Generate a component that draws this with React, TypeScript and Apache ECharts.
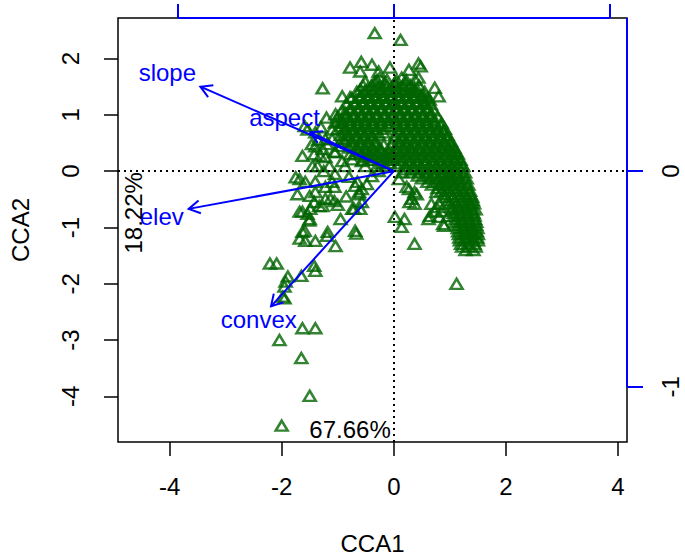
import React, { useEffect, useRef } from "react";
import * as echarts from "echarts";

const FONT = "'Liberation Sans', Arial, Helvetica, sans-serif";
const GREEN = "#006400";
const BLUE = "#0000ff";
const FS = 24;

const xTicks = [-4, -2, 0, 2, 4];
const yTicks = [-4, -3, -2, -1, 0, 1, 2];
const topTicks = [-1, 0, 1];
const rightTicks = [-1, 0];
const xLimits = [-4.92, 4.16];
const yLimits = [-4.81, 2.72];
const biplotScaleX = 3.85;
const biplotScaleY = 3.83;

const envNames = ["slope", "aspect", "elev", "convex"];
const envArrowX = [-3.45, -1.49, -3.66, -2.19];
const envArrowY = [1.5, 0.69, -0.67, -2.4];
const envLabelX = [-4.04, -1.95, -4.14, -2.41];
const envLabelY = [1.75, 0.95, -0.8, -2.63];

const pctTexts = ["67.66%", "18.22%"];
const pctX = [-0.78, -4.64];
const pctY = [-4.59, -0.74];
const pctVertical = [false, true];

// dense core of site scores, row by row
const coreRowY = [
  1.62, 1.52, 1.41, 1.3, 1.19, 1.08, 0.97, 0.86, 0.75, 0.64, 0.53, 0.42, 0.31,
  0.2, 0.09, -0.02, -0.13, -0.24, -0.35, -0.46, -0.57, -0.68, -0.79, -0.9,
  -1.01, -1.12, -1.23, -1.34, -1.4,
];
const coreRowX = [
  [-0.3, -0.12, 0.05, 0.22, 0.38],
  [-0.55, -0.4, -0.26, -0.12, 0.02, 0.16, 0.3, 0.45],
  [-0.66, -0.52, -0.38, -0.25, -0.11, 0.03, 0.17, 0.31, 0.44, 0.55],
  [-0.75, -0.61, -0.47, -0.34, -0.2, -0.06, 0.08, 0.21, 0.35, 0.48, 0.6],
  [-0.84, -0.7, -0.56, -0.42, -0.29, -0.15, -0.01, 0.13, 0.26, 0.4, 0.53, 0.66],
  [-0.92, -0.78, -0.64, -0.5, -0.37, -0.23, -0.09, 0.05, 0.18, 0.32, 0.46, 0.59, 0.71],
  [-1.0, -0.86, -0.72, -0.58, -0.45, -0.31, -0.17, -0.03, 0.1, 0.24, 0.38, 0.51, 0.65, 0.78],
  [-1.05, -0.91, -0.77, -0.63, -0.5, -0.36, -0.22, -0.08, 0.05, 0.19, 0.33, 0.46, 0.6, 0.73, 0.85],
  [-1.0, -0.86, -0.72, -0.58, -0.45, -0.31, -0.17, 0.1, 0.24, 0.38, 0.51, 0.65, 0.78, 0.91],
  [-0.95, -0.81, -0.67, -0.53, -0.4, -0.26, 0.02, 0.15, 0.29, 0.43, 0.56, 0.7, 0.83, 0.96],
  [-0.88, -0.74, -0.6, -0.46, -0.33, 0.09, 0.22, 0.36, 0.5, 0.63, 0.77, 0.9, 1.02],
  [-0.8, -0.66, -0.52, -0.38, -0.25, 0.03, 0.17, 0.3, 0.44, 0.58, 0.71, 0.85, 0.98, 1.08],
  [-0.7, -0.56, -0.42, -0.28, -0.15, -0.01, 0.13, 0.27, 0.4, 0.54, 0.68, 0.81, 0.95, 1.07, 1.14],
  [-0.55, -0.41, -0.27, -0.13, 0.01, 0.15, 0.29, 0.42, 0.56, 0.7, 0.83, 0.97, 1.1, 1.19],
  [-0.3, -0.15, 0.05, 0.2, 0.34, 0.48, 0.62, 0.75, 0.89, 1.02, 1.15, 1.24],
  [0.15, 0.3, 0.45, 0.6, 0.74, 0.88, 1.01, 1.14, 1.27],
  [0.5, 0.65, 0.79, 0.92, 1.05, 1.18, 1.3],
  [0.68, 0.82, 0.95, 1.08, 1.21, 1.33],
  [0.85, 0.98, 1.11, 1.24, 1.36],
  [0.93, 1.06, 1.19, 1.31, 1.4],
  [1.0, 1.12, 1.24, 1.36, 1.43],
  [1.05, 1.17, 1.29, 1.4, 1.46],
  [1.08, 1.2, 1.32, 1.44],
  [1.11, 1.23, 1.35, 1.47],
  [1.14, 1.26, 1.38, 1.49],
  [1.16, 1.28, 1.4, 1.5],
  [1.18, 1.3, 1.42, 1.5],
  [1.22, 1.34, 1.46],
  [1.28, 1.42],
];

// interleaved rows that fill the core between the rows above
const coreMidRowY = [
  1.46, 1.35, 1.24, 1.13, 1.02, 0.91, 0.8, 0.69, 0.58, 0.47, 0.36, 0.25, 0.14,
  0.03, -0.08, -0.19, -0.3, -0.41, -0.52, -0.63, -0.74, -0.85, -0.96, -1.07,
  -1.18, -1.29,
];
const coreMidRowX = [
  [-0.47, -0.33, -0.19, -0.05, 0.09, 0.23, 0.37],
  [-0.59, -0.45, -0.31, -0.18, -0.04, 0.1, 0.24, 0.38, 0.5],
  [-0.68, -0.54, -0.4, -0.27, -0.13, 0.01, 0.15, 0.28, 0.42, 0.55],
  [-0.77, -0.63, -0.49, -0.36, -0.22, -0.08, 0.06, 0.19, 0.33, 0.47, 0.6],
  [-0.85, -0.71, -0.57, -0.44, -0.3, -0.16, -0.02, 0.11, 0.25, 0.39, 0.52, 0.66],
  [-0.93, -0.79, -0.65, -0.52, -0.38, -0.24, -0.1, 0.03, 0.17, 0.31, 0.44, 0.58, 0.71],
  [-0.93, -0.79, -0.65, -0.52, -0.38, -0.24, -0.1, 0.03, 0.17, 0.31, 0.44, 0.58, 0.71, 0.84],
  [-0.88, -0.74, -0.6, -0.47, -0.33, -0.19, 0.09, 0.22, 0.36, 0.5, 0.63, 0.77, 0.89],
  [-0.81, -0.67, -0.53, -0.4, 0.01, 0.15, 0.29, 0.43, 0.56, 0.7, 0.83, 0.95],
  [-0.73, -0.59, -0.45, -0.32, -0.18, -0.04, 0.1, 0.23, 0.37, 0.51, 0.64, 0.78, 0.91, 1.02],
  [-0.63, -0.49, -0.35, -0.22, -0.08, 0.06, 0.2, 0.34, 0.47, 0.61, 0.75, 0.88, 1.01, 1.1],
  [-0.48, -0.34, -0.2, -0.06, 0.08, 0.22, 0.36, 0.49, 0.63, 0.77, 0.9, 1.03, 1.14],
  [-0.22, -0.08, 0.12, 0.27, 0.41, 0.55, 0.69, 0.82, 0.96, 1.09, 1.2],
  [0.22, 0.37, 0.52, 0.67, 0.81, 0.95, 1.08, 1.2],
  [0.43, 0.58, 0.72, 0.86, 0.99, 1.12, 1.24],
  [0.6, 0.75, 0.88, 1.02, 1.15, 1.27],
  [0.78, 0.91, 1.05, 1.18, 1.3],
  [0.9, 1.02, 1.15, 1.27, 1.37],
  [0.97, 1.09, 1.21, 1.33, 1.41],
  [1.03, 1.15, 1.27, 1.38],
  [1.07, 1.19, 1.31, 1.42],
  [1.1, 1.22, 1.34, 1.45],
  [1.13, 1.25, 1.37, 1.47],
  [1.15, 1.27, 1.39, 1.48],
  [1.17, 1.29, 1.41, 1.49],
  [1.2, 1.32, 1.44],
];

// scattered site scores around the core
const sparseSites: [number, number][] = [
  [-0.34, 2.45], [0.12, 2.33], [-0.78, 1.84], [-0.58, 1.94], [-0.39, 1.89], [-0.07, 1.84],
  [-0.6, 1.77], [-0.27, 1.77], [-0.92, 1.33], [-0.78, 1.31], [-0.6, 1.45], [-0.51, 1.59],
  [-0.34, 1.59], [-0.16, 1.57], [0.27, 1.8], [0.44, 1.91], [0.48, 1.86], [0.44, 1.66],
  [0.73, 1.48], [0.8, 1.33], [0.55, 1.31], [0.64, 1.27], [0.37, 1.41], [0.14, 1.66],
  [0.02, 1.58], [0.22, 1.56], [-0.25, 1.66], [-1.27, 1.47], [-1.04, 1.01], [-0.87, 1.04],
  [0.88, 0.72],
  [-1.59, 0.8], [-1.4, 0.69], [-1.63, 0.27], [-1.42, 0.3], [-1.27, 0.39], [-1.22, 0.25],
  [-1.06, 0.34], [-0.92, 0.18], [-1.36, 0.09], [-0.78, 0.3], [-0.57, 0.18], [-0.44, 0.27],
  [-1.75, -0.11], [-1.58, -0.19], [-1.72, -0.41], [-1.4, -0.37], [-1.22, -0.28], [-1.06, -0.28],
  [-0.65, -0.19], [-0.57, -0.32], [-0.48, -0.23], [-0.62, -0.41], [-1.42, -0.55], [-1.27, -0.62],
  [-1.49, -0.67], [-1.13, -0.49], [-1.68, -0.72], [-1.54, -0.76], [-1.51, -0.88], [-0.71, -0.67],
  [-0.6, -0.67], [-1.59, -1.06], [-1.18, -1.08], [-0.69, -1.06], [-0.27, 0.0], [-0.39, -0.09],
  [-1.54, 0.74], [-1.3, 0.78], [-1.1, 0.57], [-0.83, 0.65], [-1.19, 0.48], [-1.46, 0.48],
  [-1.0, 0.88], [-1.2, 0.95], [-0.95, 0.45], [-1.35, 0.55], [-0.95, -0.85], [-1.0, -0.6],
  [-0.85, -0.45], [-0.8, -0.1], [-1.05, -0.05], [-1.25, 0.0],
  [-1.1, 0.74], [-1.22, 0.57], [-0.92, 0.57], [-1.4, 0.44], [-1.31, 0.27], [-1.04, 0.34],
  [-0.74, 0.21], [-1.45, 0.09], [-1.15, 0.09], [-0.87, 0.09], [-0.51, 0.09], [-1.68, -0.14],
  [-1.4, -0.19], [-1.1, -0.19], [-0.69, -0.26], [-1.5, -0.44], [-1.22, -0.49], [-0.62, -0.37],
  [-0.57, -0.55], [-1.63, -0.72], [-1.33, -0.62], [-1.06, -0.53], [-1.5, -0.85], [-0.74, -0.67],
  [-0.12, 0.27], [0.09, -0.14], [0.23, -0.28], [0.37, -0.37], [0.32, -0.49], [0.37, -0.58],
  [0.28, -0.55], [0.02, -0.81], [0.19, -0.85], [0.14, -0.99], [0.37, -1.29], [0.67, -0.58],
  [0.76, -0.64], [0.85, -0.71], [0.64, -0.8], [0.81, -0.81], [0.88, -0.94], [0.97, -0.8],
  [0.27, -0.32], [0.41, -0.41], [0.62, -0.85], [0.73, -0.72], [0.81, -0.58], [0.9, -0.97],
  [0.76, -0.37], [0.97, -0.14],
  [1.12, -2.0],
  [-1.63, -1.08], [-1.68, -1.2], [-1.58, -1.24], [-1.4, -1.24], [-1.19, -1.15], [-1.04, -1.33],
  [-0.67, -1.11], [-2.21, -1.64], [-2.09, -1.64], [-1.89, -1.87], [-1.93, -1.96], [-1.95, -2.05],
  [-1.98, -2.23], [-1.95, -2.26], [-1.65, -1.86], [-1.42, -1.68], [-1.4, -1.77], [-1.63, -2.79],
  [-1.4, -2.79], [-2.04, -3.0], [-1.65, -3.32], [-1.5, -3.99], [-2.0, -4.52],
];

const sites: number[][] = [];
coreRowY.forEach((y, i) => coreRowX[i].forEach((x) => sites.push([x, y])));
coreMidRowY.forEach((y, i) => coreMidRowX[i].forEach((x) => sites.push([x, y])));
sparseSites.forEach((p) => sites.push([p[0], p[1]]));

const txt = { fontFamily: FONT, fontSize: FS, color: "#000" };

function buildOption(): any {
  return {
    animation: false,
    backgroundColor: "#fff",
    grid: {
      left: 114,
      right: 58,
      top: 18,
      bottom: 116,
      show: true,
      borderColor: "#000",
      borderWidth: 1.5,
      backgroundColor: "transparent",
    },
    xAxis: [
      {
        type: "value",
        min: xLimits[0],
        max: xLimits[1],
        position: "bottom",
        axisLine: { show: false, onZero: false },
        axisTick: { show: true, length: 14, customValues: xTicks, lineStyle: { color: "#000", width: 1.5 } },
        axisLabel: { customValues: xTicks, margin: 32, ...txt },
        splitLine: { show: false },
        name: "CCA1",
        nameLocation: "middle",
        nameGap: 89,
        nameTextStyle: txt,
      },
      {
        type: "value",
        min: xLimits[0] / biplotScaleX,
        max: xLimits[1] / biplotScaleX,
        position: "top",
        axisLine: { show: false, onZero: false },
        axisTick: { show: true, length: 14, customValues: topTicks, lineStyle: { color: BLUE, width: 2 } },
        axisLabel: { show: false },
        splitLine: { show: false },
      },
    ],
    yAxis: [
      {
        type: "value",
        min: yLimits[0],
        max: yLimits[1],
        position: "left",
        axisLine: { show: false, onZero: false },
        axisTick: { show: true, length: 14, customValues: yTicks, lineStyle: { color: "#000", width: 1.5 } },
        axisLabel: { customValues: yTicks, rotate: 90, margin: 36, ...txt },
        splitLine: { show: false },
        name: "CCA2",
        nameLocation: "middle",
        nameRotate: 90,
        nameGap: 86,
        nameTextStyle: txt,
      },
      {
        type: "value",
        min: yLimits[0] / biplotScaleY,
        max: yLimits[1] / biplotScaleY,
        position: "right",
        axisLine: { show: false, onZero: false },
        axisTick: { show: true, length: 16, customValues: rightTicks, lineStyle: { color: BLUE, width: 2 } },
        axisLabel: { customValues: rightTicks, rotate: 90, margin: 31, ...txt },
        splitLine: { show: false },
      },
    ],
    series: [
      {
        type: "scatter",
        z: 1,
        data: [],
        markLine: {
          silent: true,
          symbol: ["none", "none"],
          label: { show: false },
          lineStyle: { color: "#000", width: 2, type: [2, 4] },
          data: [{ xAxis: 0 }, { yAxis: 0 }],
        },
      },
      {
        type: "scatter",
        z: 2,
        symbol: "triangle",
        symbolSize: [12, 10],
        itemStyle: { color: "rgba(0,0,0,0)", borderColor: GREEN, borderWidth: 2.5 },
        data: sites,
      },
      {
        type: "custom",
        z: 5,
        clip: false,
        data: envNames.map((_, i) => [0, 0, envArrowX[i], envArrowY[i]]),
        encode: { x: [0, 2], y: [1, 3] },
        renderItem: (params: any, api: any) => {
          const p0 = api.coord([api.value(0), api.value(1)]);
          const p1 = api.coord([api.value(2), api.value(3)]);
          const ang = Math.atan2(p1[1] - p0[1], p1[0] - p0[0]);
          const L = 13;
          const a = Math.PI / 6;
          const h1 = [p1[0] - L * Math.cos(ang - a), p1[1] - L * Math.sin(ang - a)];
          const h2 = [p1[0] - L * Math.cos(ang + a), p1[1] - L * Math.sin(ang + a)];
          return {
            type: "group",
            children: [
              { type: "line", shape: { x1: p0[0], y1: p0[1], x2: p1[0], y2: p1[1] }, style: { stroke: BLUE, lineWidth: 2 } },
              { type: "polyline", shape: { points: [h1, p1, h2] }, style: { stroke: BLUE, lineWidth: 2, fill: "none" } },
            ],
          };
        },
      },
      {
        type: "custom",
        z: 6,
        clip: false,
        data: envNames.map((_, i) => [envLabelX[i], envLabelY[i]]),
        renderItem: (params: any, api: any) => {
          const p = api.coord([api.value(0), api.value(1)]);
          return {
            type: "text",
            x: p[0],
            y: p[1],
            style: {
              text: envNames[params.dataIndex],
              fill: BLUE,
              fontSize: FS,
              fontFamily: FONT,
              align: "center",
              verticalAlign: "middle",
            },
          };
        },
      },
      {
        type: "custom",
        z: 6,
        clip: false,
        data: pctTexts.map((_, i) => [pctX[i], pctY[i]]),
        renderItem: (params: any, api: any) => {
          const p = api.coord([api.value(0), api.value(1)]);
          return {
            type: "text",
            x: p[0],
            y: p[1],
            rotation: pctVertical[params.dataIndex] ? Math.PI / 2 : 0,
            style: {
              text: pctTexts[params.dataIndex],
              fill: "#000",
              fontSize: FS,
              fontFamily: FONT,
              align: "center",
              verticalAlign: "middle",
            },
          };
        },
      },
      {
        type: "custom",
        z: 7,
        clip: false,
        data: [[0, 0]],
        renderItem: (params: any, api: any) => {
          const tA = api.coord([topTicks[0] * biplotScaleX, yLimits[1]]);
          const tB = api.coord([topTicks[topTicks.length - 1] * biplotScaleX, yLimits[1]]);
          const rA = api.coord([xLimits[1], yLimits[1]]);
          const rB = api.coord([xLimits[1], rightTicks[0] * biplotScaleY]);
          return {
            type: "group",
            children: [
              { type: "line", shape: { x1: tA[0], y1: tA[1], x2: tB[0], y2: tB[1] }, style: { stroke: BLUE, lineWidth: 2 } },
              { type: "line", shape: { x1: rA[0], y1: rA[1], x2: rB[0], y2: rB[1] }, style: { stroke: BLUE, lineWidth: 2 } },
            ],
          };
        },
      },
    ],
  };
}

export default function App() {
  const ref = useRef<HTMLDivElement>(null);
  useEffect(() => {
    if (!ref.current) return;
    const chart = echarts.init(ref.current, null, { renderer: "svg" });
    chart.setOption(buildOption());
    return () => chart.dispose();
  }, []);
  return (
    <div
      ref={ref}
      style={{ position: "absolute", left: 0, top: 0, width: 685, height: 560, background: "#fff" }}
    />
  );
}
